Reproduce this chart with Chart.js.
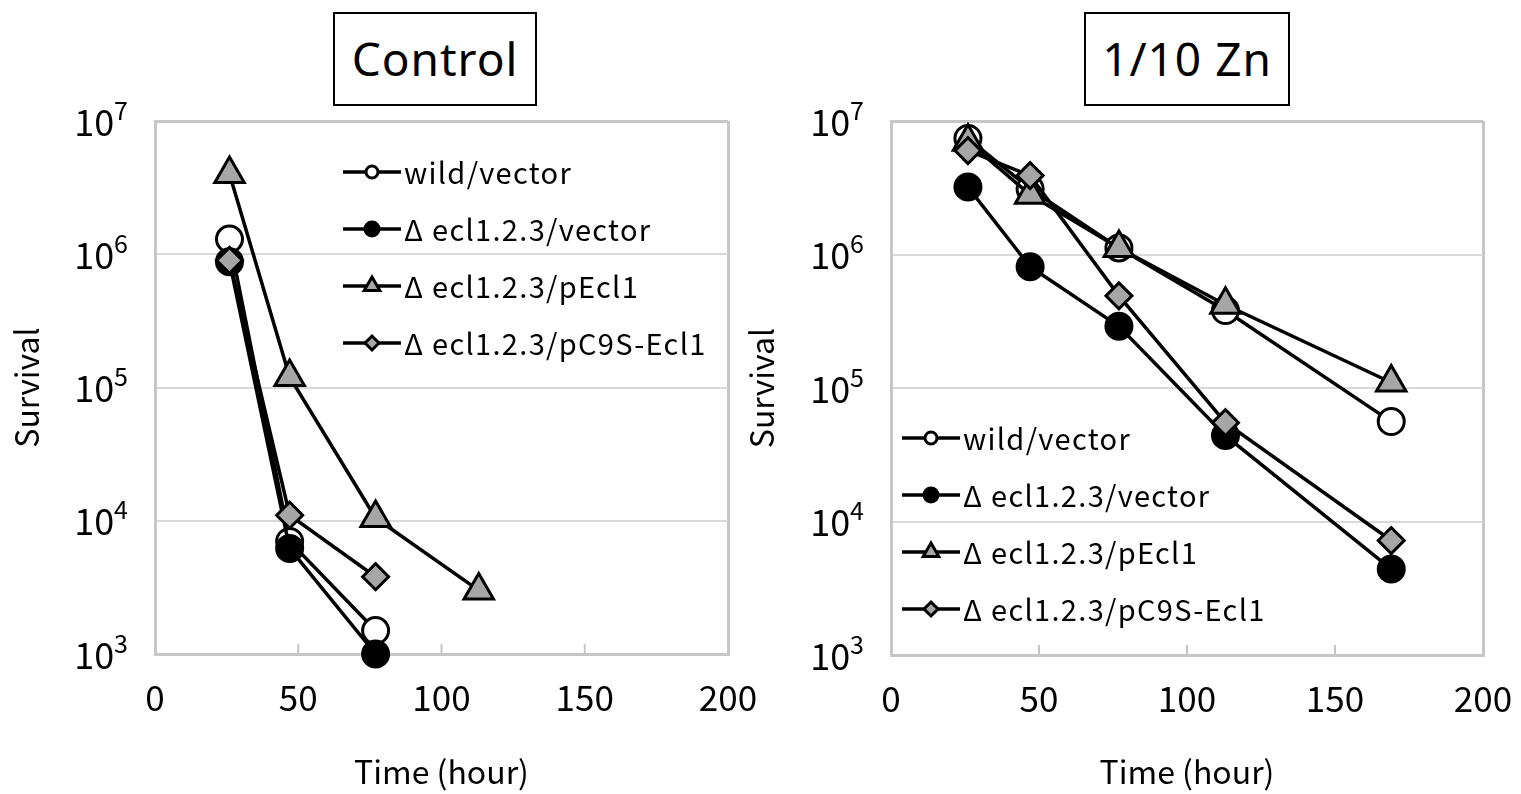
<!DOCTYPE html>
<html>
<head>
<meta charset="utf-8">
<script src="https://cdn.jsdelivr.net/npm/chart.js@4.4.1/dist/chart.umd.min.js"></script>
<style>
  body { margin: 0; background: #fff; width: 1521px; height: 794px; position: relative; overflow: hidden; }
  .panel { position: absolute; top: 0; height: 794px; }
  .tag {
    position: absolute; top: 12px; height: 90px;
    border: 2px solid #000; background: #fff;
    font-family: "Noto Sans", sans-serif; font-size: 46px; line-height: 88px;
    text-align: center; letter-spacing: 1px;
  }
</style>
</head>
<body>
<div class="panel" style="left:0;width:790px"><canvas id="ctrl"></canvas></div>
<div class="panel" style="left:740px;width:781px"><canvas id="zn"></canvas></div>
<div class="tag" style="left:333px;width:200px">Control</div>
<div class="tag" style="left:1084px;width:202px">1/10 Zn</div>
<script>
const times = [26, 47, 77, 113, 169];
const seriesNames = ['wild/vector', 'Δ ecl1.2.3/vector', 'Δ ecl1.2.3/pEcl1', 'Δ ecl1.2.3/pC9S-Ecl1'];
const yTicks = [1e3, 1e4, 1e5, 1e6, 1e7];
const xTicks = [0, 50, 100, 150, 200];

// Control
const ctrlWild  = [1.3e6, 7.0e3, 1.5e3];
const ctrlDelta = [8.8e5, 6.2e3, 1.0e3];
const ctrlPEcl1 = [4.0e6, 1.2e5, 1.05e4, 3.0e3];
const ctrlPC9S  = [9.0e5, 1.1e4, 3.8e3];

// 1/10 Zn
const znWild  = [7.4e6, 3.1e6, 1.12e6, 3.8e5, 5.6e4];
const znDelta = [3.2e6, 8.1e5, 2.9e5, 4.4e4, 4.4e3];
const znPEcl1 = [7.0e6, 2.8e6, 1.12e6, 4.2e5, 1.1e5];
const znPC9S  = [6.0e6, 3.9e6, 4.9e5, 5.5e4, 7.2e3];

const FONT = '"Noto Sans CJK JP", "Noto Sans", sans-serif';
const GRID = '#d9d9d9';
const FRAME = '#c6c6c6';

const markers = [
  { pointStyle: 'circle',   pointRadius: 13, pointBackgroundColor: '#ffffff', legendRadius: 6 },
  { pointStyle: 'circle',   pointRadius: 13, pointBackgroundColor: '#000000', legendRadius: 7 },
  { pointStyle: 'triangle', pointRadius: 17, pointBackgroundColor: '#a6a6a6', legendRadius: 9 },
  { pointStyle: 'rectRot',  pointRadius: 13, pointBackgroundColor: '#a6a6a6', legendRadius: 7 }
];

function toPoints(vals) {
  return vals.map((v, i) => ({ x: times[i], y: v }));
}

function makeDatasets(seriesList) {
  return seriesList.map((vals, i) => ({
    label: seriesNames[i],
    data: toPoints(vals),
    borderColor: '#000',
    borderWidth: 3.5,
    pointStyle: markers[i].pointStyle,
    pointRadius: markers[i].pointRadius,
    pointHoverRadius: markers[i].pointRadius,
    pointBackgroundColor: markers[i].pointBackgroundColor,
    pointBorderColor: '#000',
    pointBorderWidth: 3,
    tension: 0,
    clip: false,
    order: seriesList.length - 1 - i
  }));
}

// powers of ten on the y axis, inner tick marks on x, line+marker legend
const survivalPlugin = {
  id: 'survival',
  afterDraw(chart, args, opts) {
    const ctx = chart.ctx;
    const area = chart.chartArea;
    const xs = chart.scales.x, ys = chart.scales.y;
    ctx.save();

    ctx.strokeStyle = FRAME;
    ctx.lineWidth = 2;
    xTicks.slice(1, -1).forEach(v => {
      const px = xs.getPixelForValue(v);
      ctx.beginPath();
      ctx.moveTo(px, area.bottom);
      ctx.lineTo(px, area.bottom - 10);
      ctx.stroke();
    });

    ctx.fillStyle = '#000';
    ctx.textBaseline = 'middle';
    yTicks.forEach(v => {
      const py = ys.getPixelForValue(v);
      const exp = String(Math.round(Math.log10(v)));
      ctx.font = '25px ' + FONT;
      const ew = ctx.measureText(exp).width;
      const ex = area.left - 27 - ew;
      ctx.textAlign = 'left';
      ctx.fillText(exp, ex, py - 11);
      ctx.font = '36px ' + FONT;
      ctx.textAlign = 'right';
      ctx.fillText('10', ex, py + 1);
    });

    const lx = area.left + opts.dx;
    ctx.letterSpacing = '1.3px';
    seriesNames.forEach((name, i) => {
      const ly = area.top + opts.dy + i * 57;
      ctx.strokeStyle = '#000';
      ctx.lineWidth = 3.5;
      ctx.beginPath();
      ctx.moveTo(lx, ly);
      ctx.lineTo(lx + 58, ly);
      ctx.stroke();
      ctx.fillStyle = markers[i].pointBackgroundColor;
      ctx.lineWidth = 3;
      Chart.helpers.drawPoint(ctx, {
        pointStyle: markers[i].pointStyle,
        radius: markers[i].legendRadius,
        rotation: 0,
        borderWidth: 3
      }, lx + 29, ly);
      ctx.fillStyle = '#000';
      ctx.font = '29px ' + FONT;
      ctx.textAlign = 'left';
      ctx.textBaseline = 'middle';
      ctx.fillText(name, lx + 61, ly + 1);
    });
    ctx.restore();
  }
};

function makeChart(id, seriesList, layout, legendPos) {
  return new Chart(document.getElementById(id), {
    type: 'line',
    data: { datasets: makeDatasets(seriesList) },
    plugins: [survivalPlugin],
    options: {
      responsive: true,
      maintainAspectRatio: false,
      animation: false,
      events: [],
      layout: { padding: { top: 121, right: layout.right, left: 0, bottom: 0 } },
      plugins: {
        legend: { display: false },
        tooltip: { enabled: false },
        survival: legendPos
      },
      scales: {
        x: {
          type: 'linear',
          min: 0,
          max: 200,
          afterBuildTicks: s => { s.ticks = xTicks.map(v => ({ value: v })); },
          afterFit: s => {
            s.height = layout.xHeight;
            s.paddingLeft = 0;
            s.paddingRight = 0;
          },
          ticks: { color: '#000', font: { family: FONT, size: 35 }, padding: 23 },
          grid: {
            drawTicks: false,
            color: c => (c.tick && c.tick.value === 200) ? FRAME : 'transparent',
            lineWidth: 3
          },
          border: { color: FRAME, width: 3 },
          title: {
            display: true,
            text: 'Time (hour)',
            color: '#000',
            font: { family: FONT, size: 32 },
            padding: { top: 0, bottom: 3 }
          }
        },
        y: {
          type: 'logarithmic',
          min: 1e3,
          max: 1e7,
          afterBuildTicks: s => { s.ticks = yTicks.map(v => ({ value: v })); },
          afterFit: s => {
            s.width = layout.yWidth;
            s.paddingTop = 0;
            s.paddingBottom = 0;
          },
          ticks: { display: false },
          grid: {
            drawTicks: false,
            color: c => (c.tick && c.tick.value === 1e7) ? FRAME : GRID,
            lineWidth: c => (c.tick && c.tick.value === 1e7) ? 3 : 2
          },
          border: { color: FRAME, width: 3 },
          title: {
            display: true,
            text: 'Survival',
            color: '#000',
            font: { family: FONT, size: 32 },
            padding: { top: layout.titlePad, bottom: 0 }
          }
        }
      }
    }
  });
}

makeChart('ctrl', [ctrlWild, ctrlDelta, ctrlPEcl1, ctrlPC9S],
  { right: 62, yWidth: 155, xHeight: 140, titlePad: 8 },
  { dx: 188, dy: 51 });

makeChart('zn', [znWild, znDelta, znPEcl1, znPC9S],
  { right: 38, yWidth: 151, xHeight: 139, titlePad: 3 },
  { dx: 11, dy: 317 });
</script>
</body>
</html>
